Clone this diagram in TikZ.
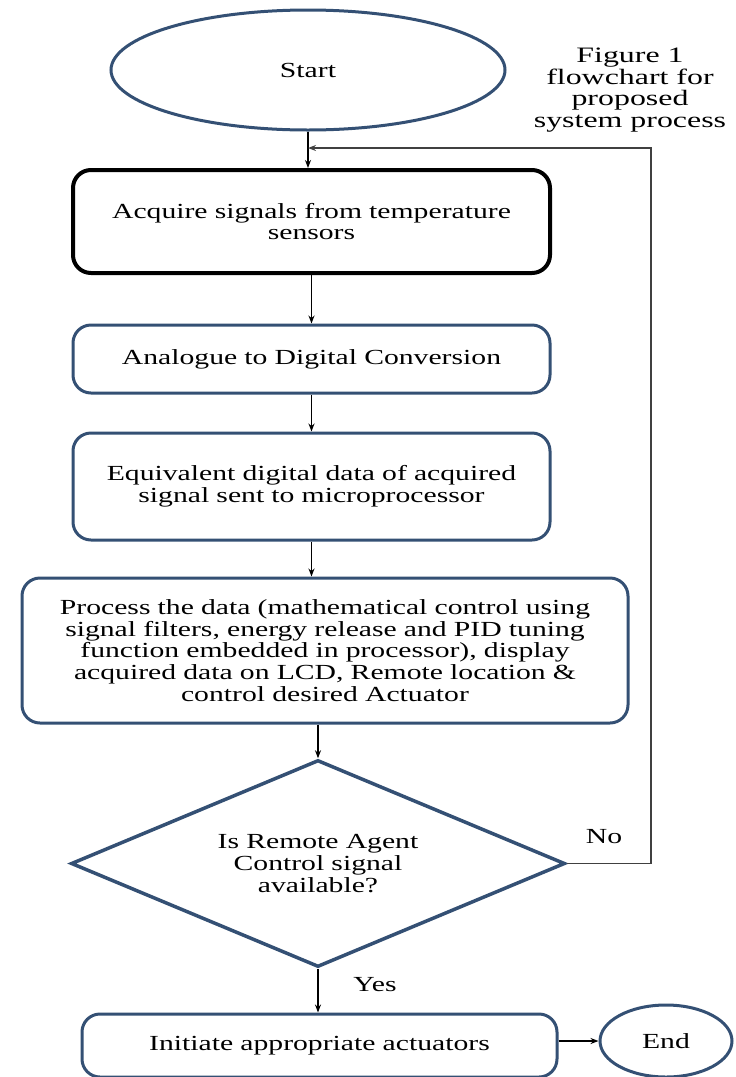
\documentclass[tikz,border=0pt]{standalone}
\usepackage{fontspec}
\setmainfont{Liberation Serif}[FakeStretch=1.38]
\newfontfamily\capfont{Liberation Serif}[FakeStretch=1.45]
\usetikzlibrary{shapes.geometric,arrows.meta}
\definecolor{boxblue}{RGB}{52,80,116}

\begin{document}
\begin{tikzpicture}
[x=1pt,y=-1pt,every node/.style={font=\fontsize{21.5}{21.7}\selectfont,inner sep=0pt,align=center},
box/.style={draw=boxblue,line width=3pt,rounded corners=18pt},
arr/.style={-{Stealth[length=8pt,width=6pt]},line width=1.5pt}]
\useasboundingbox (0,0) rectangle (736,1077);
\fill[white] (0,0) rectangle (736,1077);
\clip (0,0) rectangle (736,1077);
\node[draw=boxblue,line width=3pt,ellipse,minimum width=394pt,minimum height=120pt] (start) at (308,70) {Start};
\node[font=\fontsize{22}{21.5}\capfont] (cap) at (630,90) {Figure 1\\flowchart for\\proposed\\system process};
\node[box,draw=black,line width=4pt,minimum width=477pt,minimum height=103pt,text width=470pt] (acq) at (311.5,221.5) {Acquire signals from temperature\\sensors};
\node[box,minimum width=477pt,minimum height=68pt,text width=470pt] (adc) at (311.5,359) {Analogue to Digital Conversion};
\node[box,minimum width=477pt,minimum height=107pt,text width=470pt] (dig) at (311.5,486.5) {Equivalent digital data of acquired\\signal sent to microprocessor};
\node[box,minimum width=606pt,minimum height=145pt,text width=600pt] (proc) at (325,650.5) {Process the data (mathematical control using\\signal filters, energy release and PID tuning\\function embedded in processor), display\\acquired data on LCD, Remote location \&\\control desired Actuator};
\node[draw=boxblue,line width=3.5pt,diamond,aspect=2.4,minimum width=494pt,minimum height=207pt,text width=240pt] (dec) at (318,863.5) {Is Remote Agent\\Control signal\\available?};
\node[box,minimum width=475pt,minimum height=63pt,text width=470pt] (act) at (319.5,1045.5) {Initiate appropriate actuators};
\node[draw=boxblue,line width=3pt,ellipse,minimum width=132pt,minimum height=72pt] (end) at (666,1041) {End};
\node (yes) at (375,985) {Yes};
\node (no) at (604,837) {No};
\coordinate (turn) at (651,148);
\coordinate (back) at (308,148);
\draw[arr] (start.south) -- (start.south |- acq.north);
\draw[arr] (acq) -- (adc);
\draw[arr] (adc) -- (dig);
\draw[arr] (dig.south) -- (dig.south |- proc.north);
\draw[arr] (proc.south -| dec.north) -- (dec.north);
\draw[arr] (dec.south) -- (dec.south |- act.north);
\draw[arr] (act.east |- end.west) -- (end.west);
\draw[arr,draw=black!75] (dec.east) -| (turn) -- (back);
\end{tikzpicture}
\end{document}
